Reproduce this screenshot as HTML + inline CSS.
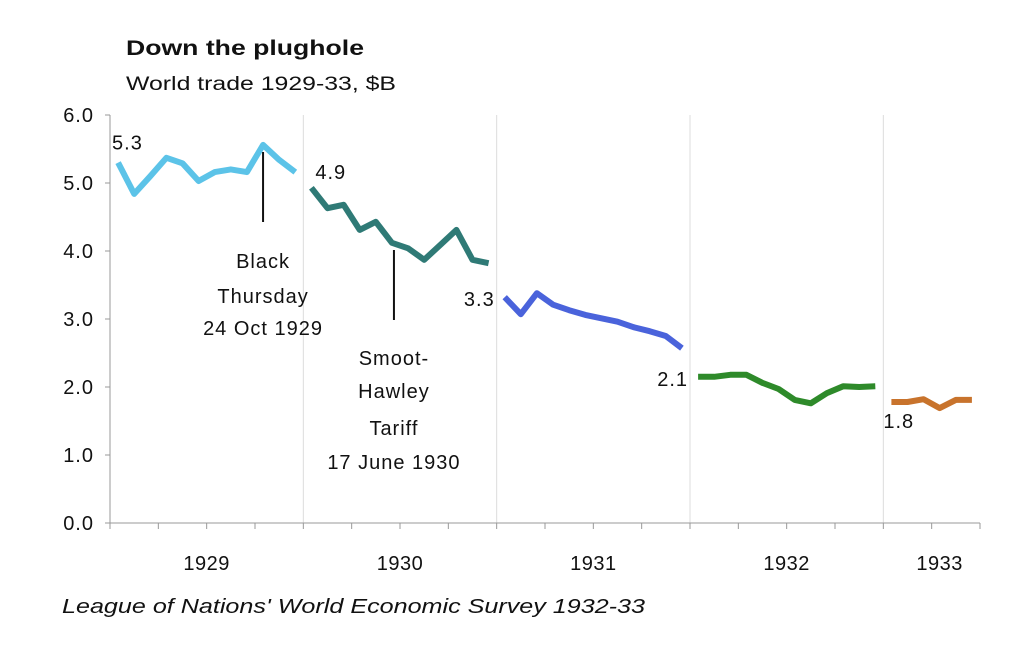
<!DOCTYPE html>
<html><head><meta charset="utf-8"><style>
body{margin:0;background:#fff;width:1028px;height:656px;overflow:hidden}
svg text{font-family:"Liberation Sans",Arial,sans-serif;fill:#111}
</style></head><body>
<svg id="chart" width="1028" height="656" viewBox="0 0 1028 656" xmlns="http://www.w3.org/2000/svg">
<text x="126" y="55" font-size="21" font-weight="bold" textLength="238" lengthAdjust="spacingAndGlyphs">Down the plughole</text>
<text x="126" y="90" font-size="19" textLength="270" lengthAdjust="spacingAndGlyphs">World trade 1929-33, $B</text>
<text x="62" y="613" font-size="20" font-style="italic" textLength="583" lengthAdjust="spacingAndGlyphs">League of Nations' World Economic Survey 1932-33</text>
<g id="axes"></g><g id="series"></g><g id="notes"></g>
</svg>
<script>
const yTicks=[0,1,2,3,4,5,6];
const yTickLabels=["0.0","1.0","2.0","3.0","4.0","5.0","6.0"];
const years=["1929","1930","1931","1932","1933"];
const s1929=[5.30,4.84,5.10,5.37,5.29,5.03,5.16,5.20,5.16,5.56,5.34,5.16];
const s1930=[4.93,4.63,4.68,4.31,4.43,4.12,4.04,3.87,4.09,4.31,3.87,3.82];
const s1931=[3.32,3.07,3.38,3.21,3.13,3.06,3.01,2.96,2.88,2.82,2.75,2.57];
const s1932=[2.15,2.15,2.18,2.18,2.06,1.97,1.81,1.76,1.91,2.01,2.00,2.01];
const s1933=[1.78,1.78,1.82,1.69,1.81,1.81];
const seriesColors=["#5cc3e8","#2f7a76","#4a63db","#2e8a2a","#c8732c"];
const startLabels=["5.3","4.9","3.3","2.1","1.8"];

const NS="http://www.w3.org/2000/svg";
const X0=110,X1=980,Y0=523,Y6=115,MON=(X1-X0)/54;
const y=v=>Y0-(v/6)*(Y0-Y6);
const x=(yr,m)=>X0+MON*(yr*12+m+0.5);
function mk(tag,attrs,parent){const e=document.createElementNS(NS,tag);for(const k in attrs)e.setAttribute(k,attrs[k]);parent.appendChild(e);return e;}
const axes=document.getElementById('axes'),ser=document.getElementById('series'),notes=document.getElementById('notes');
for(let i=1;i<years.length;i++){const gx=X0+MON*12*i;const g=mk('line',{x1:gx,x2:gx,y1:Y6,y2:Y0,stroke:'#dcdcdc','stroke-width':1},axes);

}
const ya=mk('line',{x1:X0,x2:X0,y1:Y6,y2:Y0,stroke:'#999'},axes);


const xa=mk('line',{x1:X0,x2:X1,y1:Y0,y2:Y0,stroke:'#999'},axes);


yTicks.forEach((t,i)=>{mk('line',{x1:X0-5,x2:X0,y1:y(t),y2:y(t),stroke:'#999'},axes);
const tx=mk('text',{x:94,y:y(t)+7,'font-size':20,'letter-spacing':1,'text-anchor':'end'},axes);tx.textContent=yTickLabels[i];

});
for(let q=0;q<=18;q++){const tx=X0+MON*3*q;mk('line',{x1:tx,x2:tx,y1:Y0,y2:Y0+6,stroke:'#999'},axes);}
years.forEach((yr,i)=>{const w=i<4?12:6;const t=mk('text',{x:X0+MON*(12*i+w/2)+(i==4?8:0),y:570,'font-size':20,'letter-spacing':0.5,'text-anchor':'middle'},axes);t.textContent=yr;

});
const all=[s1929,s1930,s1931,s1932,s1933];
const lblPos=[[-6,-13,'start'],[4,-9,'start'],[-10,9,'end'],[-10,9,'end'],[-8,26,'start']];
all.forEach((s,i)=>{const pts=s.map((v,m)=>x(i,m).toFixed(1)+','+y(v).toFixed(1)).join(' ');
const p=mk('polyline',{points:pts,fill:'none',stroke:seriesColors[i],'stroke-width':6,'stroke-linejoin':'round'},ser);


const lp=lblPos[i];const t=mk('text',{x:x(i,0)+lp[0],y:y(s[0])+lp[1],'font-size':20,'letter-spacing':1,'text-anchor':lp[2]},ser);t.textContent=startLabels[i];

});
function note(cx,yTop,yBot,lines,ys,name){mk('line',{x1:cx,x2:cx,y1:yTop,y2:yBot,stroke:'#111','stroke-width':2},notes);
const g=mk('g',{},notes);


lines.forEach((l,i)=>{const t=mk('text',{x:cx,y:ys[i],'font-size':20,'letter-spacing':1,'text-anchor':'middle'},g);t.textContent=l;});}
note(x(0,9),152,222,["Black","Thursday","24 Oct 1929"],[268,303,335],'black-thursday-annotation');
note(x(1,5)+2,250,320,["Smoot-","Hawley","Tariff","17 June 1930"],[365,398,435,469],'smoot-hawley-annotation');
</script>
</body></html>
